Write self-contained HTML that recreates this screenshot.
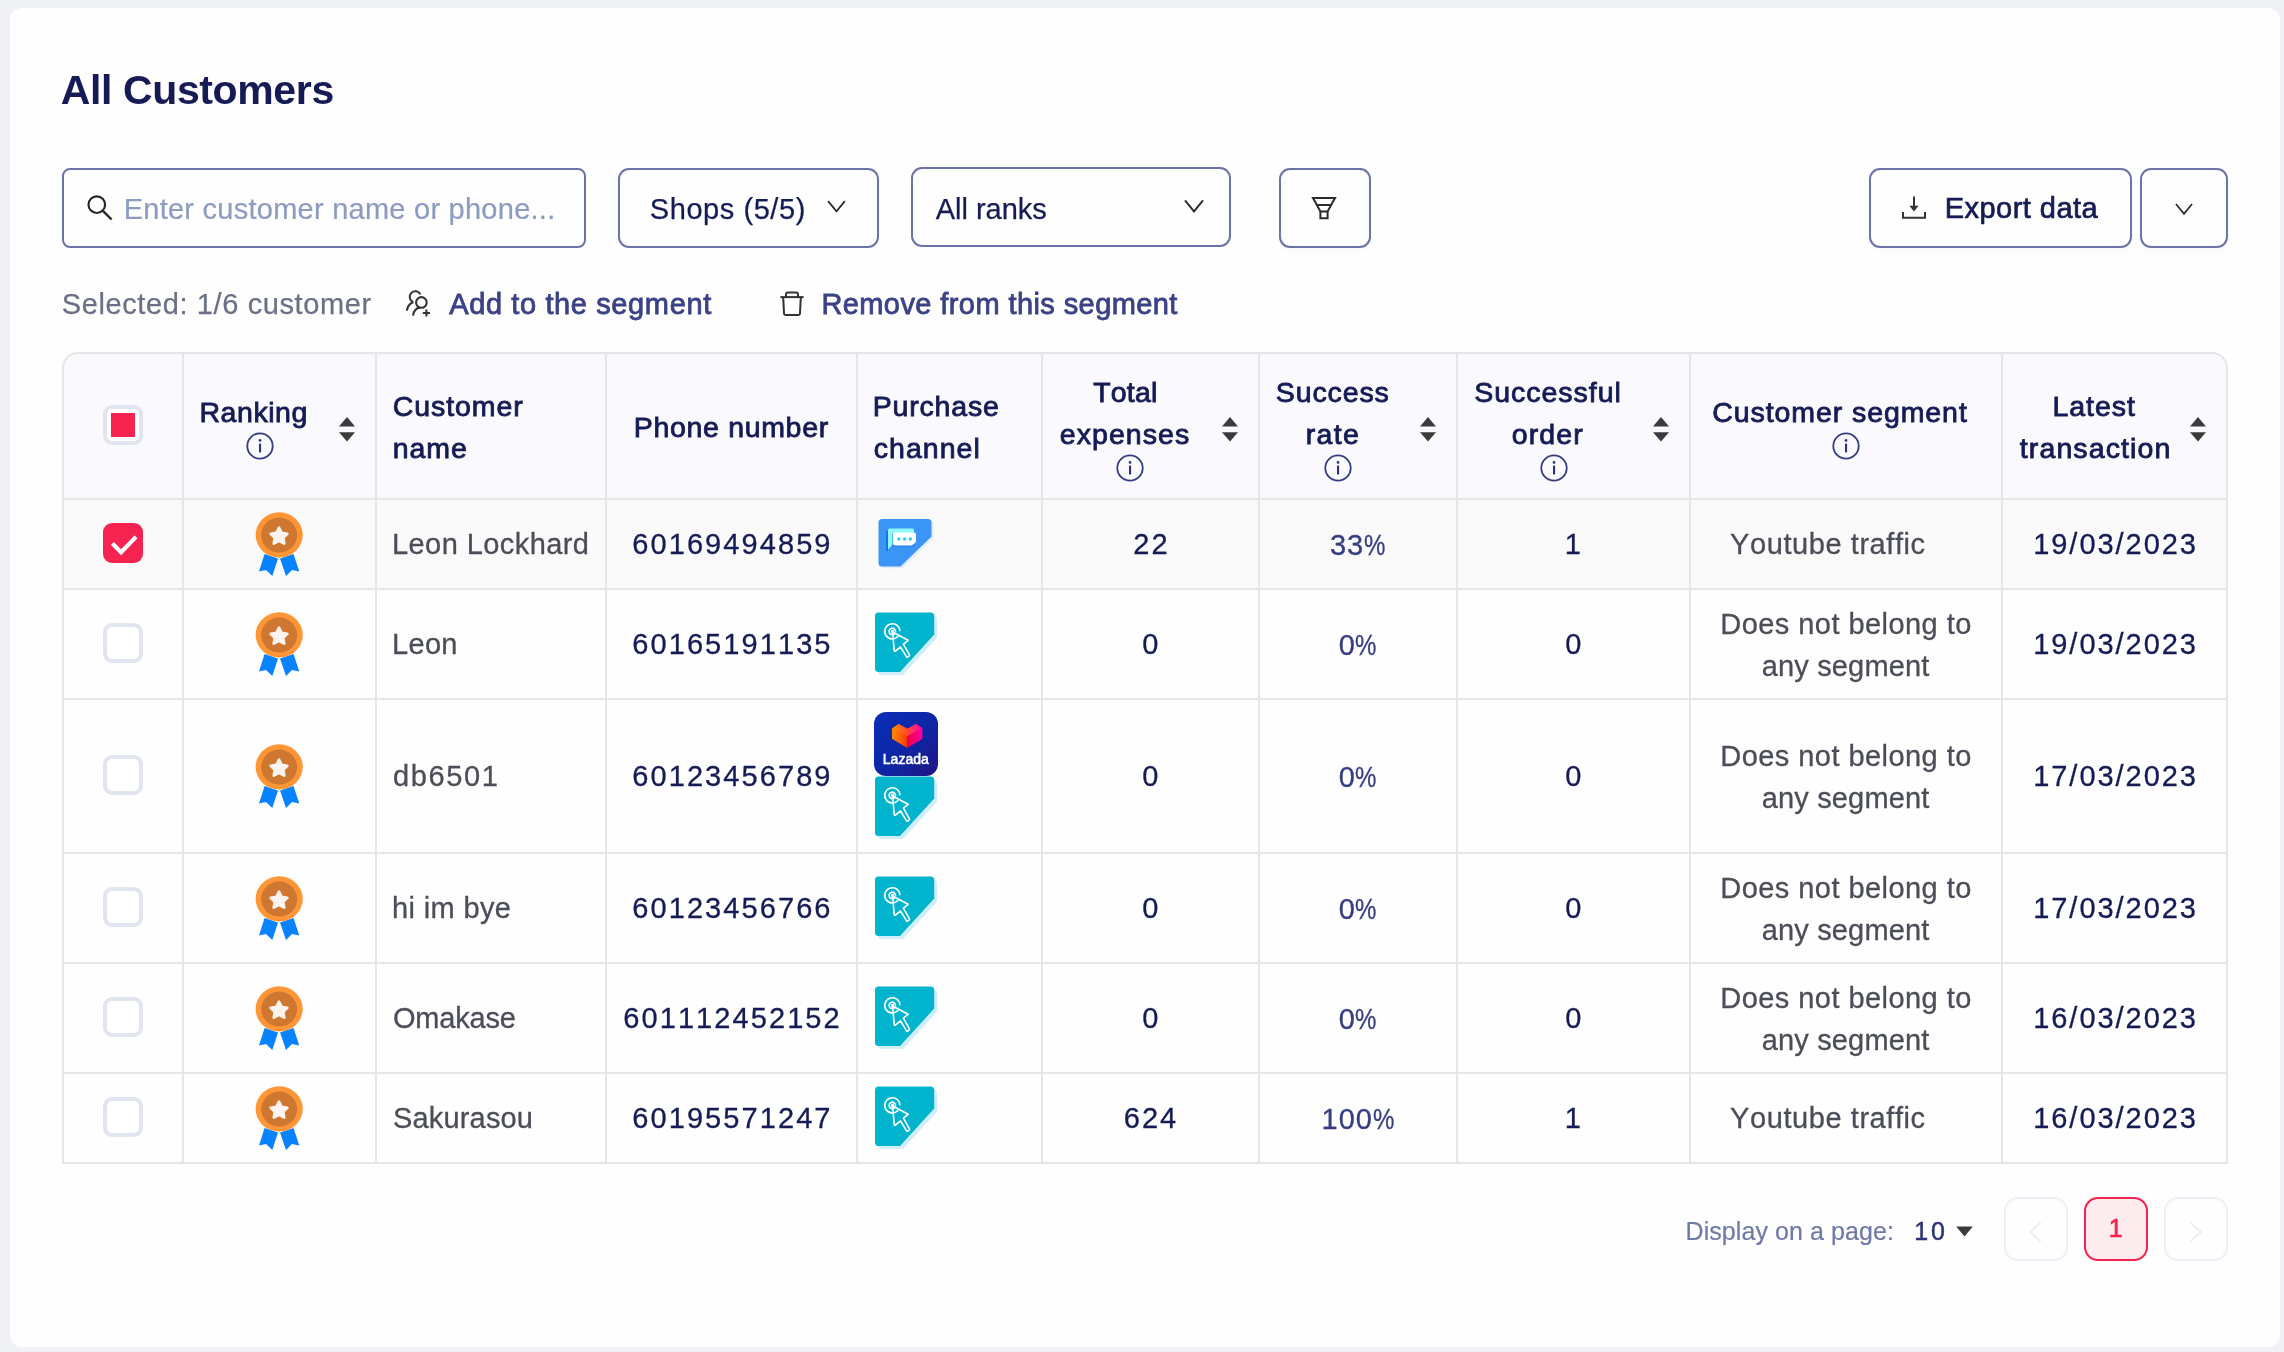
<!DOCTYPE html>
<html lang="en">
<head>
<meta charset="utf-8">
<title>All Customers</title>
<style>
html,body{margin:0;padding:0}
body{width:2284px;height:1352px;overflow:hidden;background:#f0f1f5;font-family:"Liberation Sans",sans-serif;font-kerning:none;position:relative}
.card{position:absolute;left:10px;top:8px;width:2270px;height:1339px;border-radius:12px;background:#fefefe}
.t{position:absolute;white-space:pre;margin:0}
#txt{position:absolute;left:0;top:0;width:2284px;height:1352px;will-change:transform}
.box{position:absolute;box-sizing:border-box;border:2px solid #6b73a8;border-radius:11px;background:#fefefe}
.ic{position:absolute;overflow:visible}
/* table */
.thead{position:absolute;left:62px;top:352px;width:2166px;height:148px;background:#f9f9fe;border-radius:16px 16px 0 0}
.rowsel{position:absolute;left:62px;top:500px;width:2166px;height:88px;background:#fafafa}
.frame{position:absolute;box-sizing:border-box;left:62px;top:352px;width:2166px;height:812px;border:2px solid #e6e6e7;border-radius:16px 16px 0 0}
.hl{position:absolute;left:62px;width:2166px;height:2px;background:#e6e6e7}
.vl{position:absolute;top:354px;width:2px;height:808px;background:#e6e6e7}
.cb{position:absolute;left:103px;width:40px;height:40px;box-sizing:border-box;border:4px solid #e1e5f0;border-radius:9px;background:#fff}
.cb.on{border:none;background:#f5234f}
.cb.on svg{display:block}
.pg{position:absolute;box-sizing:border-box;width:64px;height:64px;top:1197px;border:2px solid #eef0f8;border-radius:14px;background:#fefefe}
</style>
</head>
<body>
<svg width="0" height="0" style="position:absolute">
<defs>
<linearGradient id="lzbg" x1="0" y1="0" x2="1" y2="1"><stop offset="0" stop-color="#0a2fb8"/><stop offset="0.5" stop-color="#0d27a6"/><stop offset="1" stop-color="#211584"/></linearGradient>
<linearGradient id="lzl" x1="0" y1="0" x2="1" y2="0"><stop offset="0" stop-color="#ff8a00"/><stop offset="1" stop-color="#f53a00"/></linearGradient>
<linearGradient id="lzr" x1="0" y1="0" x2="1" y2="0"><stop offset="0" stop-color="#f0004a"/><stop offset="1" stop-color="#f800a0"/></linearGradient>
<linearGradient id="lzt" x1="0" y1="0" x2="1" y2="0"><stop offset="0" stop-color="#ff8c00"/><stop offset="0.5" stop-color="#ff4a30"/><stop offset="1" stop-color="#ff00b0"/></linearGradient>

<symbol id="medal" viewBox="0 0 64 64">
  <path d="M17.6 42 L12 59.6 L19 58 L25.3 64 L31 46.6 Z" fill="#0783ff"/>
  <path d="M46.5 42 L52.3 59.6 L45 58 L39 64 L33 46.6 Z" fill="#0783ff"/>
  <ellipse cx="32.2" cy="22.9" rx="23.6" ry="22.6" fill="#ff9636"/>
  <ellipse cx="32.2" cy="23.1" rx="18" ry="17.5" fill="#cf7731"/>
  <path transform="translate(0,0.4)" d="M32 15.4 L34.6 20.6 L40.3 21.4 L36.2 25.4 L37.2 31.1 L32 28.4 L26.8 31.1 L27.8 25.4 L23.7 21.4 L29.4 20.6 Z" fill="#fff3ef" stroke="#fff3ef" stroke-width="2.8" stroke-linejoin="round"/>
</symbol>

<symbol id="chat" viewBox="0 0 64 64">
  <path d="M9 9 H54.5 Q59 9 59 13.5 V26.5 L28.5 56.5 H9 Q6 56.5 6 53.5 V12 Q6 9 9 9 Z" fill="#dde9fa" transform="translate(-2,-2)" opacity="0"/>
  <path d="M8 7 H54 Q57.5 7 57.5 10.5 V24.5 L26.5 54.5 H8 Q4.5 54.5 4.5 51 V10.5 Q4.5 7 8 7 Z" fill="#e3ecfb" transform="translate(1.6,1.8)"/>
  <path d="M8 7 H54 Q57.5 7 57.5 10.5 V24.5 L26.5 54.5 H8 Q4.5 54.5 4.5 51 V10.5 Q4.5 7 8 7 Z" fill="#3b95f5"/>
  <rect x="12" y="19" width="2.2" height="20" fill="#1673f0"/>
  <path d="M14 18 Q14 16.5 15.5 16.5 H38.5 Q40 16.5 40 18 V30 H21 L14 37.5 Z" fill="#8ff9ff"/>
  <path d="M18.5 21.5 H40 V34.5 H20 Q18.5 34.5 18.5 33 Z" fill="#1a78f2"/>
  <path d="M21 20.6 H40 Q42 20.6 42 22.6 V30 L38 33.6 H21 Q19 33.6 19 31.6 V22.6 Q19 20.6 21 20.6 Z" fill="#fff"/>
  <circle cx="24.8" cy="27" r="1.7" fill="#22d3f5"/><circle cx="30.5" cy="27" r="1.7" fill="#22d3f5"/><circle cx="36.3" cy="27" r="1.7" fill="#22d3f5"/>
</symbol>

<symbol id="click" viewBox="0 0 64 64">
  <path d="M4.5 0.5 H56.5 Q60.2 0.5 60.2 4.2 V22.6 L26 60 H4.5 Q1 60 1 56.5 V4 Q1 0.5 4.5 0.5 Z" fill="#cfeef7" transform="translate(3,3)"/>
  <path d="M4.5 0.5 H56.5 Q60.2 0.5 60.2 4.2 V22.6 L26 60 H4.5 Q1 60 1 56.5 V4 Q1 0.5 4.5 0.5 Z" fill="#00b4ce"/>
  <g fill="none" stroke="#fff" stroke-width="1.6" stroke-linecap="round" stroke-linejoin="round">
    <path d="M25.9 18.6 A7.6 7.6 0 1 0 23.9 24.5"/>
    <path d="M21.5 19.6 A3.2 3.2 0 1 0 20.4 21.8"/>
    <circle cx="18.4" cy="19.3" r="0.9"/>
    <path d="M18.6 20 L34.1 28.3 L29.4 32.2 L35.6 43.2 Q34.9 45.3 32.7 45.1 L26.5 34.8 L21.4 39.2 Q20.2 39.4 20.2 38.2 Z"/>
  </g>
</symbol>

<symbol id="lazada" viewBox="0 0 64 64">
  <rect x="0" y="0" width="64" height="64" rx="12" fill="url(#lzbg)"/>
  <path d="M18 16.4 L24.6 12 L33.3 16.8 L33.3 36 L18 26.8 Z" fill="url(#lzl)"/>
  <path d="M48.4 16.2 L42 12 L33.3 16.8 L33.3 36 L48.4 26.8 Z" fill="url(#lzr)"/>
  <path d="M18 16.4 L24.6 12 L33.3 16.8 L42 12 L48.4 16.2 L33.3 24 Z" fill="url(#lzt)"/>
</symbol>

<symbol id="info" viewBox="0 0 28 28">
  <circle cx="14" cy="14" r="12.7" fill="none" stroke="#363c80" stroke-width="1.8"/>
  <rect x="13" y="11.6" width="2.1" height="8.8" fill="#2d3378"/><circle cx="14.05" cy="8.4" r="1.35" fill="#2d3378"/>
</symbol>
<symbol id="sort" viewBox="0 0 16 25">
  <path d="M8 0 L16 9.4 H0 Z" fill="#3b3b3b"/><path d="M8 24.6 L16 15.2 H0 Z" fill="#3b3b3b"/>
</symbol>
<symbol id="chev" viewBox="0 0 20 14">
  <path d="M1 1.2 L10 12.2 L19 1.2" fill="none" stroke="#2b2b2b" stroke-width="1.9"/>
</symbol>
</defs>
</svg>

<div class="card"></div>

<!-- toolbar boxes -->
<div class="box" style="left:62px;top:168px;width:524px;height:80px;border-radius:8px"></div>
<div class="box" style="left:618px;top:168px;width:261px;height:80px"></div>
<div class="box" style="left:911px;top:167px;width:320px;height:80px"></div>
<div class="box" style="left:1279px;top:168px;width:92px;height:80px;box-shadow:0 3px 3px rgba(0,0,0,.025)"></div>
<div class="box" style="left:1869px;top:168px;width:263px;height:80px;box-shadow:0 3px 3px rgba(0,0,0,.025)"></div>
<div class="box" style="left:2140px;top:168px;width:88px;height:80px;box-shadow:0 3px 3px rgba(0,0,0,.025)"></div>

<!-- toolbar icons -->
<svg class="ic" style="left:84px;top:192px" width="32" height="32" viewBox="0 0 32 32"><circle cx="12.8" cy="12.7" r="8.3" fill="none" stroke="#262626" stroke-width="2.2"/><path d="M18.9 18.9 L27.6 27.5" stroke="#262626" stroke-width="2.4" fill="none"/></svg>
<svg class="ic" style="left:827px;top:199.5px" width="19" height="13"><use href="#chev"/></svg>
<svg class="ic" style="left:1184px;top:199px" width="20" height="14.5"><use href="#chev"/></svg>
<svg class="ic" style="left:2175px;top:202.5px" width="18" height="12.5"><use href="#chev"/></svg>
<!-- funnel -->
<svg class="ic" style="left:1309px;top:194px" width="32" height="28" viewBox="0 0 32 28"><g fill="none" stroke="#2b2b2b" stroke-width="2" stroke-linejoin="miter"><path d="M4 4 H26 L18.6 17.6 H11.4 Z"/><path d="M7.8 11 H22.2"/><path d="M11.4 17.6 V24.2 H18.6 V17.6"/></g></svg>
<!-- download -->
<svg class="ic" style="left:1900px;top:194px" width="28" height="28" viewBox="0 0 28 28"><g fill="none" stroke="#333" stroke-width="2"><path d="M14 2.4 V15.6"/><path d="M3 18 V23.8 H25 V18"/></g><path d="M9.4 11.8 H18.6 L14 17.4 Z" fill="#333"/></svg>

<!-- selection row icons -->
<svg class="ic" style="left:395px;top:280px" width="50" height="50" viewBox="0 0 50 50"><g fill="none" stroke="#333" stroke-width="2.1">
<circle cx="26.4" cy="22.4" r="5.3"/>
<path d="M18 35.6 Q19 28.6 25.2 27.4"/>
<path d="M25.4 14.4 A5.6 5.6 0 1 0 18 21.9"/>
<path d="M11.8 30.6 Q12.8 24.4 18.4 22"/>
<path d="M27.8 33 H35 M31.4 29.4 V36.6"/></g></svg>
<svg class="ic" style="left:765px;top:280px" width="50" height="50" viewBox="0 0 50 50"><g fill="none" stroke="#333" stroke-width="2" stroke-linejoin="round"><path d="M15.4 17.1 H38.6"/><path d="M21 17 V14.4 Q21 12.5 22.9 12.5 H31.1 Q33 12.5 33 14.4 V17"/><path d="M18.2 17.4 L19 33.2 Q19.1 35 21 35 H33 Q34.9 35 35 33.2 L35.8 17.4"/></g></svg>

<!-- table -->
<div class="thead"></div>
<div class="rowsel"></div>
<div class="hl" style="top:498px"></div>
<div class="hl" style="top:588px"></div>
<div class="hl" style="top:698px"></div>
<div class="hl" style="top:852px"></div>
<div class="hl" style="top:962px"></div>
<div class="hl" style="top:1072px"></div>
<div class="vl" style="left:182px"></div>
<div class="vl" style="left:375px"></div>
<div class="vl" style="left:605px"></div>
<div class="vl" style="left:856px"></div>
<div class="vl" style="left:1041px"></div>
<div class="vl" style="left:1258px"></div>
<div class="vl" style="left:1456px"></div>
<div class="vl" style="left:1689px"></div>
<div class="vl" style="left:2001px"></div>
<div class="frame"></div>

<!-- header checkbox -->
<div class="cb" style="top:405px"><div style="position:absolute;left:4px;top:4px;width:24px;height:24px;background:#f5234f"></div></div>

<!-- header info icons / sorters -->
<svg class="ic" style="left:246px;top:431.8px" width="28" height="28"><use href="#info"/></svg>
<svg class="ic" style="left:1116px;top:453.9px" width="28" height="28"><use href="#info"/></svg>
<svg class="ic" style="left:1324px;top:453.9px" width="28" height="28"><use href="#info"/></svg>
<svg class="ic" style="left:1540px;top:453.9px" width="28" height="28"><use href="#info"/></svg>
<svg class="ic" style="left:1832px;top:431.8px" width="28" height="28"><use href="#info"/></svg>
<svg class="ic" style="left:339px;top:416.7px" width="16" height="25"><use href="#sort"/></svg>
<svg class="ic" style="left:1222px;top:416.7px" width="16" height="25"><use href="#sort"/></svg>
<svg class="ic" style="left:1420px;top:416.7px" width="16" height="25"><use href="#sort"/></svg>
<svg class="ic" style="left:1653px;top:416.7px" width="16" height="25"><use href="#sort"/></svg>
<svg class="ic" style="left:2190px;top:416.7px" width="16" height="25"><use href="#sort"/></svg>

<div class="cb on" style="top:523px"><svg viewBox="0 0 40 40" width="40" height="40"><path d="M9.4 20.6l8.7 8.7L33 13.9" fill="none" stroke="#fff" stroke-width="4.2"/></svg></div>
<svg class="ic" style="left:247px;top:512px" width="64" height="64"><use href="#medal"/></svg>
<svg class="ic" style="left:874px;top:512px" width="64" height="64"><use href="#chat"/></svg>
<div class="cb" style="top:623px"></div>
<svg class="ic" style="left:247px;top:612px" width="64" height="64"><use href="#medal"/></svg>
<svg class="ic" style="left:874px;top:612px" width="64" height="64"><use href="#click"/></svg>
<div class="cb" style="top:755px"></div>
<svg class="ic" style="left:247px;top:744px" width="64" height="64"><use href="#medal"/></svg>
<svg class="ic" style="left:874px;top:712px" width="64" height="64"><use href="#lazada"/></svg>
<svg class="ic" style="left:874px;top:776px" width="64" height="64"><use href="#click"/></svg>
<div class="cb" style="top:887px"></div>
<svg class="ic" style="left:247px;top:876px" width="64" height="64"><use href="#medal"/></svg>
<svg class="ic" style="left:874px;top:876px" width="64" height="64"><use href="#click"/></svg>
<div class="cb" style="top:997px"></div>
<svg class="ic" style="left:247px;top:986px" width="64" height="64"><use href="#medal"/></svg>
<svg class="ic" style="left:874px;top:986px" width="64" height="64"><use href="#click"/></svg>
<div class="cb" style="top:1097px"></div>
<svg class="ic" style="left:247px;top:1086px" width="64" height="64"><use href="#medal"/></svg>
<svg class="ic" style="left:874px;top:1086px" width="64" height="64"><use href="#click"/></svg>

<!-- pagination -->
<svg class="ic" style="left:1955.6px;top:1226.4px" width="17" height="11" viewBox="0 0 17 11"><path d="M0.2 0.4 H16.8 L8.5 10.6 Z" fill="#3a3a3a"/></svg>
<div class="pg" style="left:2004px"></div>
<div class="pg" style="left:2084px;background:#fdecef;border-color:#f5234f"></div>
<div class="pg" style="left:2164px"></div>
<svg class="ic" style="left:2028px;top:1221px" width="14" height="22" viewBox="0 0 14 22"><path d="M12.6 1.4 L2 11 L12.6 20.6" fill="none" stroke="#eceef8" stroke-width="2"/></svg>
<svg class="ic" style="left:2189px;top:1221px" width="14" height="22" viewBox="0 0 14 22"><path d="M1.4 1.4 L12 11 L1.4 20.6" fill="none" stroke="#eceef8" stroke-width="2"/></svg>

<div id="txt">
<span class="t" style="left:60.70px;top:70px;font-size:41px;line-height:41px;color:#161b55;letter-spacing:-0.371px;font-weight:700;">All Customers</span>
<span class="t" style="left:123.70px;top:195px;font-size:29px;line-height:29px;color:#8d9bc1;letter-spacing:0.252px;-webkit-text-stroke:0.2px #8d9bc1;">Enter customer name or phone...</span>
<span class="t" style="left:649.80px;top:195px;font-size:29px;line-height:29px;color:#151b54;letter-spacing:0.558px;-webkit-text-stroke:0.25px #151b54;">Shops (5/5)</span>
<span class="t" style="left:935.80px;top:195px;font-size:29px;line-height:29px;color:#151b54;letter-spacing:-0.025px;-webkit-text-stroke:0.25px #151b54;">All ranks</span>
<span class="t" style="left:1944.70px;top:194px;font-size:29px;line-height:29px;color:#151b54;letter-spacing:0.467px;-webkit-text-stroke:0.7px #151b54;">Export data</span>
<span class="t" style="left:61.70px;top:290px;font-size:29px;line-height:29px;color:#6c7086;letter-spacing:0.614px;-webkit-text-stroke:0.25px #6c7086;">Selected: 1/6 customer</span>
<span class="t" style="left:449.20px;top:290px;font-size:29px;line-height:29px;color:#3b4286;letter-spacing:0.618px;-webkit-text-stroke:0.8px #3b4286;">Add to the segment</span>
<span class="t" style="left:821.40px;top:290px;font-size:29px;line-height:29px;color:#3b4286;letter-spacing:0.412px;-webkit-text-stroke:0.8px #3b4286;">Remove from this segment</span>
<span class="t" style="left:199.40px;top:398px;font-size:28.5px;line-height:28.5px;color:#151b54;letter-spacing:0.570px;-webkit-text-stroke:0.85px #151b54;">Ranking</span>
<span class="t" style="left:392.80px;top:392px;font-size:28.5px;line-height:28.5px;color:#151b54;letter-spacing:0.922px;-webkit-text-stroke:0.85px #151b54;">Customer</span>
<span class="t" style="left:392.80px;top:434px;font-size:28.5px;line-height:28.5px;color:#151b54;letter-spacing:0.901px;-webkit-text-stroke:0.85px #151b54;">name</span>
<span class="t" style="left:633.70px;top:413px;font-size:28.5px;line-height:28.5px;color:#151b54;letter-spacing:0.685px;-webkit-text-stroke:0.85px #151b54;">Phone number</span>
<span class="t" style="left:872.80px;top:392px;font-size:28.5px;line-height:28.5px;color:#151b54;letter-spacing:0.799px;-webkit-text-stroke:0.85px #151b54;">Purchase</span>
<span class="t" style="left:873.80px;top:434px;font-size:28.5px;line-height:28.5px;color:#151b54;letter-spacing:1.026px;-webkit-text-stroke:0.85px #151b54;">channel</span>
<span class="t" style="left:1093.30px;top:378px;font-size:28.5px;line-height:28.5px;color:#151b54;letter-spacing:0.156px;-webkit-text-stroke:0.85px #151b54;">Total</span>
<span class="t" style="left:1059.80px;top:420px;font-size:28.5px;line-height:28.5px;color:#151b54;letter-spacing:1.069px;-webkit-text-stroke:0.85px #151b54;">expenses</span>
<span class="t" style="left:1275.80px;top:378px;font-size:28.5px;line-height:28.5px;color:#151b54;letter-spacing:0.880px;-webkit-text-stroke:0.85px #151b54;">Success</span>
<span class="t" style="left:1305.80px;top:420px;font-size:28.5px;line-height:28.5px;color:#151b54;letter-spacing:1.292px;-webkit-text-stroke:0.85px #151b54;">rate</span>
<span class="t" style="left:1474.30px;top:378px;font-size:28.5px;line-height:28.5px;color:#151b54;letter-spacing:0.965px;-webkit-text-stroke:0.85px #151b54;">Successful</span>
<span class="t" style="left:1511.80px;top:420px;font-size:28.5px;line-height:28.5px;color:#151b54;letter-spacing:1.113px;-webkit-text-stroke:0.85px #151b54;">order</span>
<span class="t" style="left:1712.30px;top:398px;font-size:28.5px;line-height:28.5px;color:#151b54;letter-spacing:0.916px;-webkit-text-stroke:0.85px #151b54;">Customer segment</span>
<span class="t" style="left:2052.40px;top:392px;font-size:28.5px;line-height:28.5px;color:#151b54;letter-spacing:0.972px;-webkit-text-stroke:0.85px #151b54;">Latest</span>
<span class="t" style="left:2019.80px;top:434px;font-size:28.5px;line-height:28.5px;color:#151b54;letter-spacing:1.108px;-webkit-text-stroke:0.85px #151b54;">transaction</span>
<span class="t" style="left:392.00px;top:530px;font-size:29px;line-height:29px;color:#4b4e58;letter-spacing:0.427px;-webkit-text-stroke:0.3px #4b4e58;">Leon Lockhard</span>
<span class="t" style="left:632.30px;top:530px;font-size:29px;line-height:29px;color:#151b54;letter-spacing:2.078px;-webkit-text-stroke:0.3px #151b54;">60169494859</span>
<span class="t" style="left:1133.20px;top:530px;font-size:29px;line-height:29px;color:#151b54;letter-spacing:2.078px;-webkit-text-stroke:0.3px #151b54;">22</span>
<span class="t" style="left:1329.90px;top:531px;font-size:29px;line-height:29px;color:#363d81;letter-spacing:1.070px;-webkit-text-stroke:0.3px #363d81;">33<span style="display:inline-block;width:21.6px;letter-spacing:0"><span style="display:inline-block;transform:scaleX(.83);transform-origin:0 50%">%</span></span></span>
<span class="t" style="left:1564.80px;top:530px;font-size:29px;line-height:29px;color:#151b54;letter-spacing:2.078px;-webkit-text-stroke:0.3px #151b54;">1</span>
<span class="t" style="left:2033.20px;top:530px;font-size:29px;line-height:29px;color:#151b54;letter-spacing:1.960px;-webkit-text-stroke:0.3px #151b54;">19/03/2023</span>
<span class="t" style="left:1730.10px;top:530px;font-size:29px;line-height:29px;color:#4b4e58;letter-spacing:0.571px;-webkit-text-stroke:0.3px #4b4e58;">Youtube traffic</span>
<span class="t" style="left:392.00px;top:630px;font-size:29px;line-height:29px;color:#4b4e58;letter-spacing:0.328px;-webkit-text-stroke:0.3px #4b4e58;">Leon</span>
<span class="t" style="left:632.30px;top:630px;font-size:29px;line-height:29px;color:#151b54;letter-spacing:2.078px;-webkit-text-stroke:0.3px #151b54;">60165191135</span>
<span class="t" style="left:1142.20px;top:630px;font-size:29px;line-height:29px;color:#151b54;letter-spacing:2.078px;-webkit-text-stroke:0.3px #151b54;">0</span>
<span class="t" style="left:1338.70px;top:631px;font-size:29px;line-height:29px;color:#363d81;letter-spacing:0.266px;-webkit-text-stroke:0.3px #363d81;">0<span style="display:inline-block;width:21.6px;letter-spacing:0"><span style="display:inline-block;transform:scaleX(.83);transform-origin:0 50%">%</span></span></span>
<span class="t" style="left:1565.30px;top:630px;font-size:29px;line-height:29px;color:#151b54;letter-spacing:2.078px;-webkit-text-stroke:0.3px #151b54;">0</span>
<span class="t" style="left:2033.20px;top:630px;font-size:29px;line-height:29px;color:#151b54;letter-spacing:1.960px;-webkit-text-stroke:0.3px #151b54;">19/03/2023</span>
<span class="t" style="left:1720.30px;top:610px;font-size:29px;line-height:29px;color:#4b4e58;letter-spacing:0.443px;-webkit-text-stroke:0.3px #4b4e58;">Does not belong to</span>
<span class="t" style="left:1761.80px;top:652px;font-size:29px;line-height:29px;color:#4b4e58;letter-spacing:0.145px;-webkit-text-stroke:0.3px #4b4e58;">any segment</span>
<span class="t" style="left:393.00px;top:762px;font-size:29px;line-height:29px;color:#4b4e58;letter-spacing:1.644px;-webkit-text-stroke:0.3px #4b4e58;">db6501</span>
<span class="t" style="left:632.30px;top:762px;font-size:29px;line-height:29px;color:#151b54;letter-spacing:2.078px;-webkit-text-stroke:0.3px #151b54;">60123456789</span>
<span class="t" style="left:1142.20px;top:762px;font-size:29px;line-height:29px;color:#151b54;letter-spacing:2.078px;-webkit-text-stroke:0.3px #151b54;">0</span>
<span class="t" style="left:1338.70px;top:763px;font-size:29px;line-height:29px;color:#363d81;letter-spacing:0.266px;-webkit-text-stroke:0.3px #363d81;">0<span style="display:inline-block;width:21.6px;letter-spacing:0"><span style="display:inline-block;transform:scaleX(.83);transform-origin:0 50%">%</span></span></span>
<span class="t" style="left:1565.30px;top:762px;font-size:29px;line-height:29px;color:#151b54;letter-spacing:2.078px;-webkit-text-stroke:0.3px #151b54;">0</span>
<span class="t" style="left:2033.20px;top:762px;font-size:29px;line-height:29px;color:#151b54;letter-spacing:1.960px;-webkit-text-stroke:0.3px #151b54;">17/03/2023</span>
<span class="t" style="left:1720.30px;top:742px;font-size:29px;line-height:29px;color:#4b4e58;letter-spacing:0.443px;-webkit-text-stroke:0.3px #4b4e58;">Does not belong to</span>
<span class="t" style="left:1761.80px;top:784px;font-size:29px;line-height:29px;color:#4b4e58;letter-spacing:0.145px;-webkit-text-stroke:0.3px #4b4e58;">any segment</span>
<span class="t" style="left:392.00px;top:894px;font-size:29px;line-height:29px;color:#4b4e58;letter-spacing:0.369px;-webkit-text-stroke:0.3px #4b4e58;">hi im bye</span>
<span class="t" style="left:632.30px;top:894px;font-size:29px;line-height:29px;color:#151b54;letter-spacing:2.078px;-webkit-text-stroke:0.3px #151b54;">60123456766</span>
<span class="t" style="left:1142.20px;top:894px;font-size:29px;line-height:29px;color:#151b54;letter-spacing:2.078px;-webkit-text-stroke:0.3px #151b54;">0</span>
<span class="t" style="left:1338.70px;top:895px;font-size:29px;line-height:29px;color:#363d81;letter-spacing:0.266px;-webkit-text-stroke:0.3px #363d81;">0<span style="display:inline-block;width:21.6px;letter-spacing:0"><span style="display:inline-block;transform:scaleX(.83);transform-origin:0 50%">%</span></span></span>
<span class="t" style="left:1565.30px;top:894px;font-size:29px;line-height:29px;color:#151b54;letter-spacing:2.078px;-webkit-text-stroke:0.3px #151b54;">0</span>
<span class="t" style="left:2033.20px;top:894px;font-size:29px;line-height:29px;color:#151b54;letter-spacing:1.960px;-webkit-text-stroke:0.3px #151b54;">17/03/2023</span>
<span class="t" style="left:1720.30px;top:874px;font-size:29px;line-height:29px;color:#4b4e58;letter-spacing:0.443px;-webkit-text-stroke:0.3px #4b4e58;">Does not belong to</span>
<span class="t" style="left:1761.80px;top:916px;font-size:29px;line-height:29px;color:#4b4e58;letter-spacing:0.145px;-webkit-text-stroke:0.3px #4b4e58;">any segment</span>
<span class="t" style="left:393.00px;top:1004px;font-size:29px;line-height:29px;color:#4b4e58;letter-spacing:-0.185px;-webkit-text-stroke:0.3px #4b4e58;">Omakase</span>
<span class="t" style="left:623.30px;top:1004px;font-size:29px;line-height:29px;color:#151b54;letter-spacing:2.078px;-webkit-text-stroke:0.3px #151b54;">601112452152</span>
<span class="t" style="left:1142.20px;top:1004px;font-size:29px;line-height:29px;color:#151b54;letter-spacing:2.078px;-webkit-text-stroke:0.3px #151b54;">0</span>
<span class="t" style="left:1338.70px;top:1005px;font-size:29px;line-height:29px;color:#363d81;letter-spacing:0.266px;-webkit-text-stroke:0.3px #363d81;">0<span style="display:inline-block;width:21.6px;letter-spacing:0"><span style="display:inline-block;transform:scaleX(.83);transform-origin:0 50%">%</span></span></span>
<span class="t" style="left:1565.30px;top:1004px;font-size:29px;line-height:29px;color:#151b54;letter-spacing:2.078px;-webkit-text-stroke:0.3px #151b54;">0</span>
<span class="t" style="left:2033.20px;top:1004px;font-size:29px;line-height:29px;color:#151b54;letter-spacing:1.960px;-webkit-text-stroke:0.3px #151b54;">16/03/2023</span>
<span class="t" style="left:1720.30px;top:984px;font-size:29px;line-height:29px;color:#4b4e58;letter-spacing:0.443px;-webkit-text-stroke:0.3px #4b4e58;">Does not belong to</span>
<span class="t" style="left:1761.80px;top:1026px;font-size:29px;line-height:29px;color:#4b4e58;letter-spacing:0.145px;-webkit-text-stroke:0.3px #4b4e58;">any segment</span>
<span class="t" style="left:393.00px;top:1104px;font-size:29px;line-height:29px;color:#4b4e58;letter-spacing:0.168px;-webkit-text-stroke:0.3px #4b4e58;">Sakurasou</span>
<span class="t" style="left:632.30px;top:1104px;font-size:29px;line-height:29px;color:#151b54;letter-spacing:2.078px;-webkit-text-stroke:0.3px #151b54;">60195571247</span>
<span class="t" style="left:1123.70px;top:1104px;font-size:29px;line-height:29px;color:#151b54;letter-spacing:2.078px;-webkit-text-stroke:0.3px #151b54;">624</span>
<span class="t" style="left:1321.60px;top:1105px;font-size:29px;line-height:29px;color:#363d81;letter-spacing:1.005px;-webkit-text-stroke:0.3px #363d81;">100<span style="display:inline-block;width:21.6px;letter-spacing:0"><span style="display:inline-block;transform:scaleX(.83);transform-origin:0 50%">%</span></span></span>
<span class="t" style="left:1564.80px;top:1104px;font-size:29px;line-height:29px;color:#151b54;letter-spacing:2.078px;-webkit-text-stroke:0.3px #151b54;">1</span>
<span class="t" style="left:2033.20px;top:1104px;font-size:29px;line-height:29px;color:#151b54;letter-spacing:1.960px;-webkit-text-stroke:0.3px #151b54;">16/03/2023</span>
<span class="t" style="left:1730.10px;top:1104px;font-size:29px;line-height:29px;color:#4b4e58;letter-spacing:0.571px;-webkit-text-stroke:0.3px #4b4e58;">Youtube traffic</span>
<span class="t" style="left:1685.50px;top:1219px;font-size:25px;line-height:25px;color:#6f79a7;letter-spacing:0.083px;-webkit-text-stroke:0.2px #6f79a7;">Display on a page:</span>
<span class="t" style="left:1914.30px;top:1219px;font-size:25px;line-height:25px;color:#2e3576;letter-spacing:2.687px;-webkit-text-stroke:0.5px #2e3576;">10</span>
<span class="t" style="left:2108.70px;top:1216px;font-size:25px;line-height:25px;color:#f5234f;letter-spacing:0.000px;-webkit-text-stroke:0.6px #f5234f;">1</span>
<span class="t" style="left:882.80px;top:752px;font-size:14px;line-height:14px;color:#fff;letter-spacing:0.013px;-webkit-text-stroke:0.55px #fff;">Lazada</span>
</div>
</body>
</html>
